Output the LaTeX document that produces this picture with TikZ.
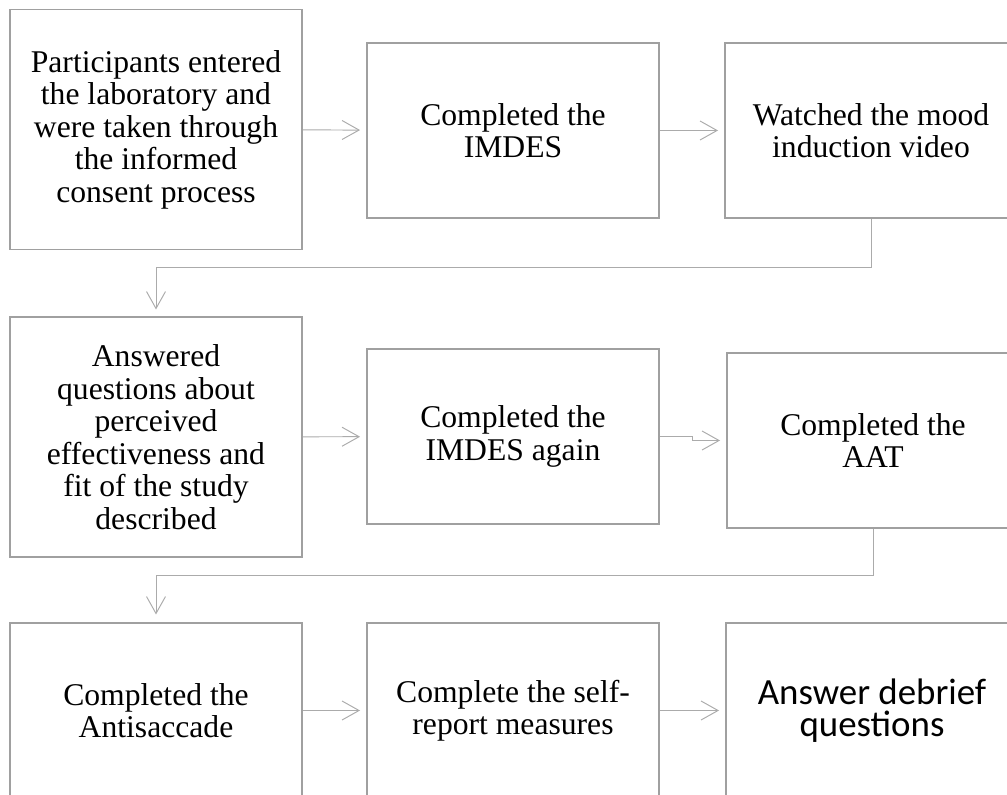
\documentclass[tikz,border=0pt]{standalone}
\usepackage{fontspec}
\setmainfont{Liberation Serif}
\newfontfamily\carlito{Carlito}
\usepackage{tikz}
\usetikzlibrary{arrows.meta,positioning}
\definecolor{boxgray}{HTML}{A0A0A0}
\definecolor{linegray}{HTML}{ABABAB}

\begin{document}
\begin{tikzpicture}[
 font=\fontsize{18}{18.5}\selectfont,
 stage/.style={draw=boxgray,line width=1.1pt,minimum width=58.4mm,minimum height=35mm,align=center,inner sep=0pt},
 tall/.style={stage,minimum height=48mm},
 arr/.style={-{Straight Barb[length=3.4mm,width=3.8mm]},line width=0.55pt,draw=linegray},
 side/.style={arr,shorten >=1.2mm},
 down/.style={arr,shorten >=1.7mm}
]
\useasboundingbox (0,0) rectangle (20.14,15.9);
\node[tall] (pe) at (3.12,13.31) {Participants entered\\the laboratory and\\were taken through\\the informed\\consent process};
\node[stage] (im) at (10.26,13.29) {Completed the\\IMDES};
\node[stage] (mv) at (17.42,13.29) {Watched the mood\\induction video};
\draw[side] (pe)--(im); \draw[side] (im)--(mv);
\draw[down] (mv.south) -- ++(0,-0.98) -| (pe.south |- 0,9.54);

\node[tall] (aq) at (3.12,7.16) {Answered\\questions about\\perceived\\effectiveness and\\fit of the study\\described};
\node[stage] (im2) at (10.26,7.17) {Completed the\\IMDES again};
\node[stage] (aat) at (17.46,7.09) {Completed the\\AAT};
\draw[side] (aq)--(im2); \draw[side] (im2.east) -- ++(0.66,0) |- (aat.west);
\draw[down] (aat.south) -- ++(0,-0.94) -| (aq.south |- 0,3.44);

\node[stage] (as) at (3.12,1.69) {Completed the\\Antisaccade};
\node[stage] (sr) at (10.26,1.69) {Complete the self-\\report measures};
\node[stage,font=\carlito\fontsize{21}{18.2}\selectfont] (db) at (17.44,1.69) {Answer debrief\\questions};
\draw[side] (as)--(sr); \draw[side] (sr)--(db);
\end{tikzpicture}
\end{document}
